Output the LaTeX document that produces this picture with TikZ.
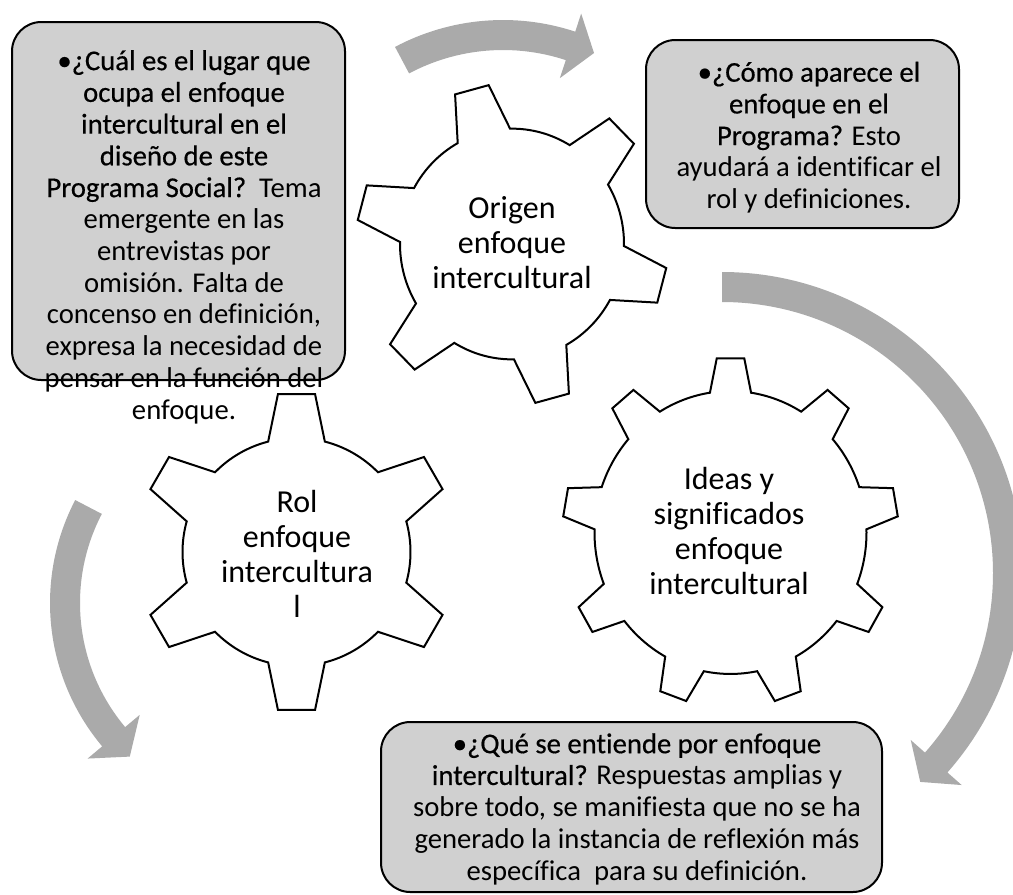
\documentclass[tikz,border=0pt]{standalone}
\usepackage{fontspec}
\setmainfont[Ligatures=NoCommon]{Carlito}
\newfontfamily\qfont[FakeBold=0.5,Ligatures=NoCommon]{Carlito}
\definecolor{arrowgray}{RGB}{170,170,170}
\definecolor{boxgray}{RGB}{208,208,208}

\tikzset{
  infobox/.style={draw=black, line width=1.5pt, fill=boxgray, rounded corners=22pt, inner sep=0pt},
  boxtext/.style={align=center, font=\fontsize{21.5}{23.8}\selectfont, inner sep=0pt},
  geartext/.style={align=center, font=\fontsize{24}{26.3}\selectfont, inner sep=0pt},
  gearline/.style={draw=black, line width=1.5pt, fill=white, line join=miter},
  bandfill/.style={fill=arrowgray, draw=none},
}

% gear outline: #1 centre, #2 teeth, #3 first tooth angle, #4 root radius,
% #5 tip radius, #6 root half-angle, #7 tip half-angle, #8 vertical stretch
\newcommand\drawgear[8]{%
  \begin{scope}[shift={(#1)}, yscale=-#8]
    \pgfmathsetmacro\gstep{360/#2}
    \pgfmathtruncatemacro\glast{#2-1}
    \draw[gearline] ({#3-#6}:#4)
      \foreach \k in {0,...,\glast}{
        -- ({#3+\k*\gstep-#7}:#5) -- ({#3+\k*\gstep+#7}:#5)
        -- ({#3+\k*\gstep+#6}:#4)
        arc[start angle={#3+\k*\gstep+#6}, end angle={#3+(\k+1)*\gstep-#6}, radius=#4]
      } -- cycle;
  \end{scope}}

% curved band with arrow head: #1 centre, #2 radius, #3 start angle,
% #4 end angle, #5 tip angle, #6 half band width, #7 half head width
\newcommand\bentband[7]{%
  \begin{scope}[shift={(#1)}, yscale=-1]
    \fill[bandfill] ({#3}:{#2+#6}) arc[start angle=#3, end angle=#4, radius={#2+#6}]
      -- ({#4}:{#2+#7}) -- ({#5}:{#2+2}) -- ({#4}:{#2-#7})
      -- ({#4}:{#2-#6}) arc[start angle=#4, end angle=#3, radius={#2-#6}] -- cycle;
  \end{scope}}

\begin{document}
\begin{tikzpicture}[x=0.75pt, y=-0.75pt]
  \useasboundingbox (0,0) rectangle (1013,894);
  \clip (0,0) rectangle (1013,894);

  % circular arrows
  \bentband{503,250}{215}{118}{71.7}{65.2}{15}{34}
  \bentband{722,573}{286}{90}{-41.5}{-46.5}{15}{34}
  \bentband{273,603}{208}{152.5}{220}{227}{15}{34}

  % gears
  \coordinate (cOrigin) at (512,244);
  \coordinate (cRol) at (296.5,552);
  \coordinate (cIdeas) at (730.5,532.5);
  \drawgear{cOrigin}{6}{105}{112}{156}{14}{6.4}{1.03}
  \drawgear{cRol}{6}{90}{114}{159}{14.4}{6.7}{1}
  \drawgear{cIdeas}{9}{90}{136}{168}{8.7}{4.7}{1.04}

  \node[geartext] (tOrigin) at (512,243) {Origen\\enfoque\\intercultural};
  \node[geartext] (tRol) at (297,554) {Rol\\enfoque\\intercultura\\l};
  \node[geartext] (tIdeas) at (729,531) {Ideas y\\significados\\enfoque\\intercultural};

  % information boxes
  \node[infobox, minimum width={333*0.75pt}, minimum height={358*0.75pt}] (boxTL) at (178.5,201) {};
  \node[infobox, minimum width={313*0.75pt}, minimum height={188*0.75pt}] (boxTR) at (802.5,134) {};
  \node[infobox, minimum width={501*0.75pt}, minimum height={170*0.75pt}] (boxBT) at (631.5,807) {};

  \node[boxtext] (textTL) at (184,237) {%
    {\qfont •¿Cuál es el lugar que}\\
    {\qfont ocupa el enfoque}\\
    {\qfont intercultural en el}\\
    {\qfont diseño de este}\\
    {\qfont Programa Social?}\ \ Tema\\
    emergente en las\\
    entrevistas por\\
    omisión. Falta de\\
    concenso en definición,\\
    expresa la necesidad de\\
    pensar en la función del\\
    enfoque.};
  \node[boxtext] (textTR) at (809,137.5) {%
    {\qfont •¿Cómo aparece el}\\
    {\qfont enfoque en el}\\
    {\qfont Programa?} Esto\\
    ayudará a identificar el\\
    rol y definiciones.};
  \node[boxtext] (textBT) at (637,809) {%
    {\qfont •¿Qué se entiende por enfoque}\\
    {\qfont intercultural?} Respuestas amplias y\\
    sobre todo, se manifiesta que no se ha\\
    generado la instancia de reflexión más\\
    específica\ \ para su definición.};
\end{tikzpicture}
\end{document}
